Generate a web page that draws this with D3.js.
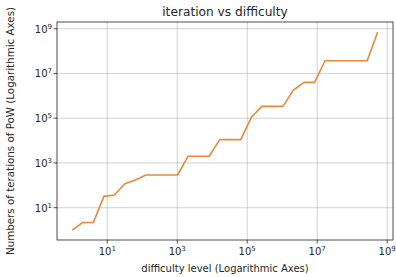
<!DOCTYPE html>
<html><head><meta charset="utf-8">
<script src="https://cdn.jsdelivr.net/npm/d3@7"></script>
<style>
html,body{margin:0;padding:0;background:#fff;}
text{font-family:"DejaVu Sans",sans-serif;fill:#262626;}
</style></head>
<body><svg id="c" width="396" height="277"></svg>
<script>
const difficulty = [1,2,4,8,16,32,64,128,256,512,1024,2048,4096,8192,16384,32768,65536,131072,262144,524288,1048576,2097152,4194304,8388608,16777216,33554432,67108864,134217728,268435456,536870912];
const iterations = [1,2.2,2.2,32,37,118,175,290,290,290,290,2000,2000,2000,11000,11000,11000,110000,340000,340000,340000,1800000,4000000,4000000,37000000,37000000,37000000,37000000,37000000,720000000];
const xTickExps = [1,3,5,7,9];
const yTickExps = [1,3,5,7,9];
const titleText = "iteration vs difficulty";
const xLabelText = "difficulty level (Logarithmic Axes)";
const yLabelText = "Numbers of terations of PoW (Logarithmic Axes)";

const svg = d3.select("#c");
const m = {l:57, r:393, t:22, b:240};
function padDomain(vals){
  const lo = Math.log10(d3.min(vals)), hi = Math.log10(d3.max(vals));
  const p = (hi-lo)*0.05;
  return [Math.pow(10, lo-p), Math.pow(10, hi+p)];
}
const x = d3.scaleLog().domain(padDomain(difficulty)).range([m.l, m.r]);
const y = d3.scaleLog().domain(padDomain(iterations)).range([m.b, m.t]);

// grid
const g = svg.append("g");
xTickExps.forEach(e=>{
  const xv = x(Math.pow(10,e));
  g.append("line").attr("x1",xv).attr("x2",xv).attr("y1",m.t).attr("y2",m.b)
   .attr("stroke","#b0b0b0").attr("stroke-width",0.8).attr("opacity",0.7);
});
yTickExps.forEach(e=>{
  const yv = y(Math.pow(10,e));
  g.append("line").attr("x1",m.l).attr("x2",m.r).attr("y1",yv).attr("y2",yv)
   .attr("stroke","#b0b0b0").attr("stroke-width",0.8).attr("opacity",0.7);
});

// line
svg.append("path").datum(difficulty.map((d,i)=>[d, iterations[i]]))
  .attr("fill","none").attr("stroke","#e8893a").attr("stroke-width",1.6)
  .attr("stroke-linejoin","round")
  .attr("d", d3.line().x(d=>x(d[0])).y(d=>y(d[1])));

// spines
svg.append("rect").attr("x",m.l).attr("y",m.t).attr("width",m.r-m.l).attr("height",m.b-m.t)
  .attr("fill","none").attr("stroke","#222").attr("stroke-width",0.8);

// ticks
xTickExps.forEach(e=>{
  const xv = x(Math.pow(10,e));
  svg.append("line").attr("x1",xv).attr("x2",xv).attr("y1",m.b).attr("y2",m.b+3.5).attr("stroke","#222").attr("stroke-width",0.8);
  const t = svg.append("text").attr("x",xv).attr("y",m.b+15).attr("text-anchor","middle").attr("font-size",10);
  t.append("tspan").text("10");
  t.append("tspan").attr("dy",-4).attr("font-size",7).text(e);
});
yTickExps.forEach(e=>{
  const yv = y(Math.pow(10,e));
  svg.append("line").attr("x1",m.l-3.5).attr("x2",m.l).attr("y1",yv).attr("y2",yv).attr("stroke","#222").attr("stroke-width",0.8);
  const t = svg.append("text").attr("x",m.l-5).attr("y",yv+4).attr("text-anchor","end").attr("font-size",10);
  t.append("tspan").text("10");
  t.append("tspan").attr("dy",-4).attr("font-size",7).text(e);
});

svg.append("text").attr("x",(m.l+m.r)/2).attr("y",16).attr("text-anchor","middle").attr("font-size",12.2).text(titleText);
svg.append("text").attr("x",(m.l+m.r)/2).attr("y",272).attr("text-anchor","middle").attr("font-size",10).text(xLabelText);
svg.append("text").attr("transform",`translate(14,${(m.t+m.b)/2}) rotate(-90)`).attr("text-anchor","middle").attr("font-size",10.3).text(yLabelText);
</script></body></html>
